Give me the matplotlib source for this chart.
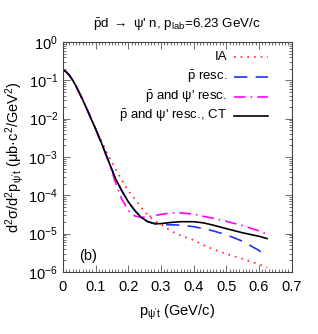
import numpy as np
import matplotlib
matplotlib.use('Agg')
import matplotlib.pyplot as plt
from matplotlib.ticker import MultipleLocator, LogLocator, NullFormatter

plt.rcParams['font.family'] = ['Liberation Sans', 'DejaVu Sans']
plt.rcParams['mathtext.fontset'] = 'custom'
plt.rcParams['mathtext.rm'] = 'Liberation Sans'
plt.rcParams['mathtext.it'] = 'Liberation Sans:italic'
plt.rcParams['mathtext.bf'] = 'Liberation Sans:bold'

# transverse momentum (GeV/c)
p_t = [0, 0.01, 0.02, 0.03, 0.04, 0.06, 0.08, 0.10, 0.12, 0.14, 0.16, 0.18,
       0.20, 0.22, 0.24, 0.26, 0.28, 0.30, 0.33, 0.36, 0.40, 0.43, 0.46,
       0.50, 0.55, 0.60, 0.625]

# log10 of d2sigma/d2p (ub c^2/GeV^2)
log_ia = [-0.72, -0.78, -0.87, -1.0, -1.15, -1.5, -1.88, -2.27, -2.62, -2.98,
          -3.30, -3.60, -3.88, -4.10, -4.32, -4.52, -4.67, -4.76, -4.93, -5.05,
          -5.17, -5.30, -5.41, -5.53, -5.66, -5.80, -5.89]
log_pbar = [-0.72, -0.78, -0.87, -1.0, -1.15, -1.5, -1.88, -2.27, -2.68, -3.12,
            -3.55, -3.88, -4.17, -4.40, -4.58, -4.69, -4.74, -4.76, -4.77, -4.78,
            -4.82, -4.87, -4.93, -5.03, -5.20, -5.44, -5.60]
log_pbar_psi = [-0.72, -0.78, -0.87, -1.0, -1.15, -1.5, -1.88, -2.27, -2.68, -3.12,
                -3.65, -4.10, -4.40, -4.54, -4.58, -4.56, -4.53, -4.50, -4.46, -4.46,
                -4.49, -4.55, -4.60, -4.68, -4.79, -4.93, -5.01]
log_ct = [-0.72, -0.78, -0.87, -1.0, -1.15, -1.5, -1.88, -2.27, -2.68, -3.12,
          -3.55, -3.88, -4.17, -4.40, -4.58, -4.69, -4.74, -4.74, -4.71, -4.69,
          -4.69, -4.72, -4.78, -4.87, -4.98, -5.07, -5.13]

labels = ['IA', r'$\bar{\rm p}$ resc.', r"$\bar{\rm p}$ and ψ' resc.",
          r"$\bar{\rm p}$ and ψ' resc., CT"]
colors = ['#ff2020', '#2030ff', '#ff00ff', 'black']
styles = [(0, (1, 3)), (0, (8, 5)), (0, (7, 3, 1, 3)), '-']

fig = plt.figure(figsize=(3.18, 3.34), dpi=100)
ax = fig.add_axes([0.198, 0.186, 0.719, 0.688])

series = [log_ia, log_pbar, log_pbar_psi, log_ct]
for vals, c, ls in zip(series, colors, styles):
    ax.plot(p_t, 10**np.array(vals), color=c, lw=1.2, ls=ls)

# legend drawn by hand: text right-aligned, sample line to the right
rows = [0.934, 0.847, 0.762, 0.678]
for y, lab, c, ls in zip(rows, labels, colors, styles):
    ax.text(0.719, y, lab, transform=ax.transAxes, ha='right', va='center', fontsize=9.5)
    ax.plot([0.75, 0.895], [y, y], transform=ax.transAxes, color=c, lw=1.2, ls=ls)

ax.set_yscale('log')
ax.set_xlim(0, 0.7)
ax.set_ylim(1e-6, 1e0)
ax.xaxis.set_major_locator(MultipleLocator(0.1))
ax.xaxis.set_minor_locator(MultipleLocator(0.01))
ax.yaxis.set_minor_locator(LogLocator(base=10, subs=np.arange(2, 10), numticks=20))
ax.yaxis.set_minor_formatter(NullFormatter())
ax.xaxis.set_major_formatter(plt.FuncFormatter(lambda v, pos: '0' if abs(v) < 1e-9 else f'{v:.1f}'))
ax.tick_params(which='both', direction='in', top=True, right=True, labelsize=10.5, width=0.6, color='#555555')
ax.tick_params(which='major', length=5)
ax.tick_params(which='minor', length=2.5)
ax.tick_params(axis='x', pad=6)
for s in ax.spines.values():
    s.set_linewidth(0.8)
    s.set_color('#444444')

ax.set_xlabel(r"p$_{\rm ψ't}$ (GeV/c)", fontsize=10.5, labelpad=6)
ax.set_ylabel(r"d$^2$σ/d$^2$p$_{\rm ψ't}$ (μb·c$^2$/GeV$^2$)", fontsize=10.5, labelpad=2)
ax.set_title(r"$\bar{\rm p}$d $\rightarrow$ ψ' n, p$_{\rm lab}$=6.23 GeV/c", fontsize=9.6, pad=10)

ax.text(0.077, 2.6e-6, '(b)', fontsize=10.5, ha='center', va='center')

plt.savefig('out.png', dpi=100)
plt.close()
